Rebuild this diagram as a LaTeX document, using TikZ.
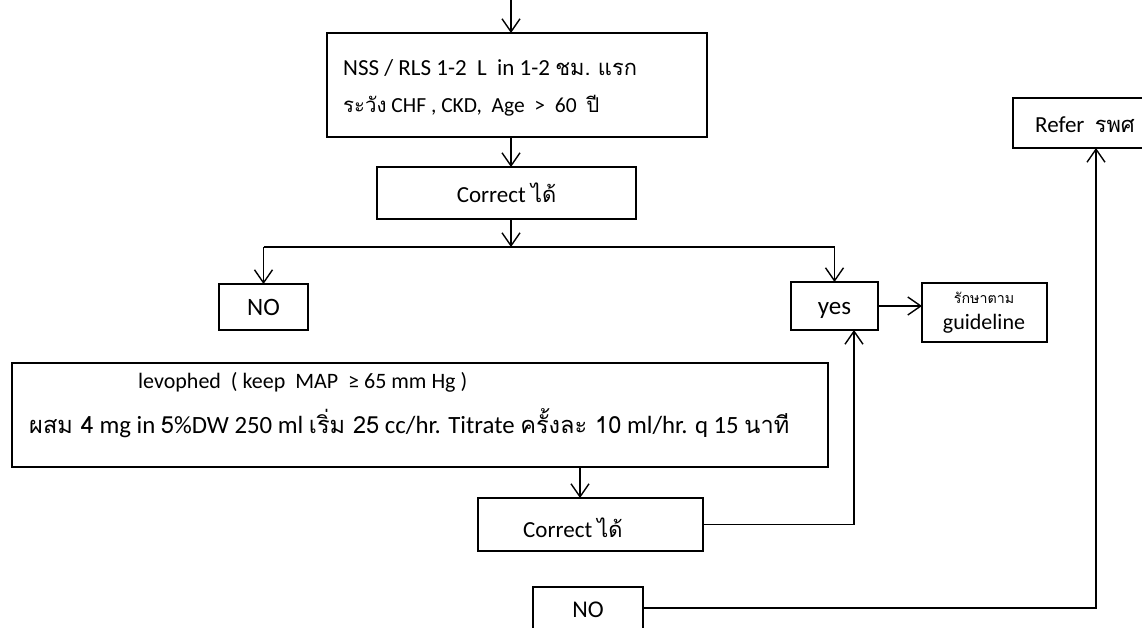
\documentclass[tikz,border=0pt]{standalone}
\usepackage{fontspec}
\setmainfont{Carlito}
\newfontfamily\thai[Script=Thai,Scale=0.95]{Loma}
\usetikzlibrary{arrows.meta}

\tikzset{
  box/.style={draw=black, line width=1.2pt, inner sep=0pt, outer sep=0pt, anchor=north west},
  lbl/.style={inner sep=0pt, anchor=west, font=\fontsize{23}{27}\selectfont},
  ctr/.style={inner sep=0pt, font=\fontsize{23}{27}\selectfont},
  link/.style={line width=1.2pt},
  arr/.style={line width=1.2pt, -{Straight Barb[length=13pt,width=18pt,line width=1.4pt]}}
}

\begin{document}
\begin{tikzpicture}[x=1pt, y=-1pt]
  \path[use as bounding box] (0,0) rectangle (1142,627);
  \clip (0,0) rectangle (1142,627);
  \fill[white] (0,0) rectangle (1142,627);

  % column guides for the connectors
  \coordinate (spine) at (511,0);
  \coordinate (br) at (511,247);
  \coordinate (lc) at (580,0);
  \coordinate (ux) at (854,0);
  \coordinate (rx) at (1096,0);

  % boxes
  \node[box, minimum width=380, minimum height=104] (b1) at (327,33) {};
  \node[box, minimum width=259, minimum height=52] (b2) at (377,167) {};
  \node[box, minimum width=89, minimum height=46] (no1) at (219,284) {};
  \node[box, minimum width=87, minimum height=48] (yes) at (791,282) {};
  \node[box, minimum width=125, minimum height=59] (guide) at (922,283) {};
  \node[box, minimum width=170, minimum height=50] (refer) at (1013,98) {};
  \node[box, minimum width=816, minimum height=104] (levo) at (12,363) {};
  \node[box, minimum width=225, minimum height=53] (c2) at (478,498) {};
  \node[box, minimum width=110, minimum height=42] (no2) at (533,587) {};

  % texts
  \node[lbl] (t1a) at (343,68) {NSS / RLS 1-2\ \ L\ \ in 1-2 {\thai ชม.\ แรก}};
  \node[lbl, font=\fontsize{21.5}{26}\selectfont] (t1b) at (343,106) {{\thai ระวัง} CHF , CKD,\ \ Age\ \ >\ \ 60\ \ {\thai ปี}};
  \node[ctr] (t2) at (b2.center) {Correct {\thai ได้}};
  \node[ctr, font=\fontsize{25}{29}\selectfont] (tno1) at (no1.center) {NO};
  \node[ctr, font=\fontsize{25}{29}\selectfont] (tyes) at ([yshift=-4pt]yes.center) {yes};
  \node[ctr, font=\thai\fontsize{15}{17}\selectfont] (tg1) at (984,298) {รักษาตาม};
  \node[ctr, font=\fontsize{22}{26}\selectfont] (tg2) at (984,324) {guideline};
  \node[lbl] (tref) at (1035,125) {Refer\ \ {\thai รพศ}};
  \node[lbl, font=\fontsize{22}{26}\selectfont] (tl1) at (138,382) {levophed\ \ ( keep\ \ MAP\ \ ≥ 65 mm Hg )};
  \node[lbl, font=\fontsize{24.8}{29}\selectfont] (tl2) at (29,423) {{\thai ผสม 4} mg in {\thai 5}\%DW 250 ml {\thai เริ่ม 25} cc/hr. Titrate {\thai ครั้งละ 10} ml/hr. q 15 {\thai นาที}};
  \node[lbl] (tc2) at (523,528) {Correct {\thai ได้}};
  \node[ctr, font=\fontsize{24}{28}\selectfont] (tno2) at ([yshift=-2pt]no2.center) {NO};

  % connectors
  \draw[arr] (spine) -- (b1.north -| spine);
  \draw[arr] (b1.south -| spine) -- (b2.north -| spine);
  \draw[arr] (b2.south -| spine) -- (br);
  \draw[link] (no1.north |- br) -- (yes.north |- br);
  \draw[arr] (no1.north |- br) -- (no1.north);
  \draw[arr] (yes.north |- br) -- (yes.north);
  \draw[arr] (yes.east) -- (yes.east -| guide.west);
  \draw[arr] (levo.south -| lc) -- (c2.north -| lc);
  \draw[arr] (c2.east) -- (c2.east -| ux) -- (yes.south -| ux);
  \draw[arr] (no2.east) -- (no2.east -| rx) -- (refer.south -| rx);
\end{tikzpicture}
\end{document}
